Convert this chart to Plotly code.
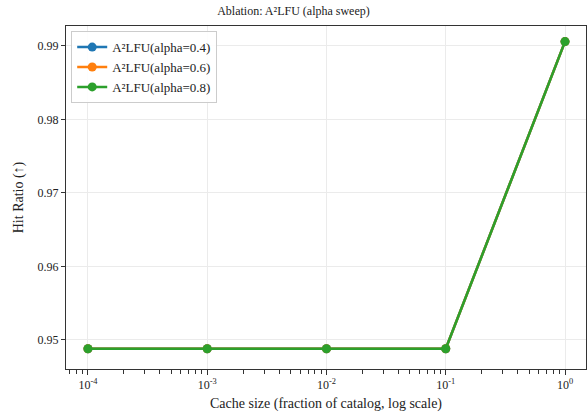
import plotly.graph_objects as go

cache_sizes = [1e-4, 1e-3, 1e-2, 1e-1, 1e0]
hit_a04 = [0.9488, 0.9488, 0.9488, 0.9488, 0.9906]
hit_a06 = [0.9488, 0.9488, 0.9488, 0.9488, 0.9906]
hit_a08 = [0.9488, 0.9488, 0.9488, 0.9488, 0.9906]
series_names = ["A²LFU(alpha=0.4)", "A²LFU(alpha=0.6)", "A²LFU(alpha=0.8)"]
series_colors = ["#1f77b4", "#ff7f0e", "#2ca02c"]
x_tickvals = [1e-4, 1e-3, 1e-2, 1e-1, 1e0]
x_ticktext = ["10<sup>-4</sup>", "10<sup>-3</sup>", "10<sup>-2</sup>", "10<sup>-1</sup>", "10<sup>0</sup>"]
y_tickvals = [0.95, 0.96, 0.97, 0.98, 0.99]
minor_x = [m * 10.0 ** e for e in range(-5, 1) for m in range(2, 10)]

fig = go.Figure()
for name, ys, c in zip(series_names, [hit_a04, hit_a06, hit_a08], series_colors):
    fig.add_trace(go.Scatter(x=cache_sizes, y=ys, name=name, mode="lines+markers",
                             line=dict(color=c, width=2.5), marker=dict(color=c, size=9)))
# invisible helper trace so the minor-tick overlay axis is rendered
fig.add_trace(go.Scatter(x=cache_sizes, y=hit_a08, xaxis="x2", mode="markers",
                         marker=dict(opacity=0), showlegend=False, hoverinfo="skip"))

font = "Liberation Serif, Times New Roman, serif"
xrange = [-4.184, 0.176]
fig.update_layout(
    width=587, height=412,
    margin=dict(l=66, r=1, t=26, b=43),
    paper_bgcolor="white", plot_bgcolor="white",
    font=dict(family=font, size=12, color="#222"),
    title=dict(text="Ablation: A²LFU (alpha sweep)", x=0.5, xanchor="center", y=0.985, yanchor="top",
               font=dict(family=font, size=12, color="#222")),
    showlegend=True,
    legend=dict(x=0.01, y=0.985, xanchor="left", yanchor="top", bgcolor="rgba(255,255,255,0.9)",
                bordercolor="#ccc", borderwidth=1, font=dict(family=font, size=13), tracegroupgap=0,
                itemwidth=30),
    xaxis2=dict(type="log", range=xrange, overlaying="x", side="bottom", anchor="y",
                tickmode="array", tickvals=minor_x, ticktext=[""] * len(minor_x),
                ticks="outside", ticklen=4, tickcolor="#333", tickwidth=1,
                showgrid=False, showline=False, zeroline=False, showticklabels=False),
)
fig.layout.xaxis.update(type="log", range=xrange, tickmode="array", tickvals=x_tickvals, ticktext=x_ticktext,
                        showline=True, linecolor="#333", linewidth=1, mirror=True,
                        ticks="outside", ticklen=5, tickcolor="#333",
                        showgrid=True, gridcolor="#ebebeb",
                        title=dict(text="Cache size (fraction of catalog, log scale)", standoff=6),
                        zeroline=False)
fig.update_yaxes(range=[0.94605, 0.99272], tickvals=y_tickvals, tickformat=".2f",
                 showline=True, linecolor="#333", linewidth=1, mirror=True,
                 ticks="outside", ticklen=4, tickcolor="#333",
                 showgrid=True, gridcolor="#ebebeb",
                 title=dict(text="Hit Ratio (↑)", standoff=10), zeroline=False)
fig.write_html("out.html", config={"displayModeBar": False},
               post_script="document.body.style.margin='0';")
